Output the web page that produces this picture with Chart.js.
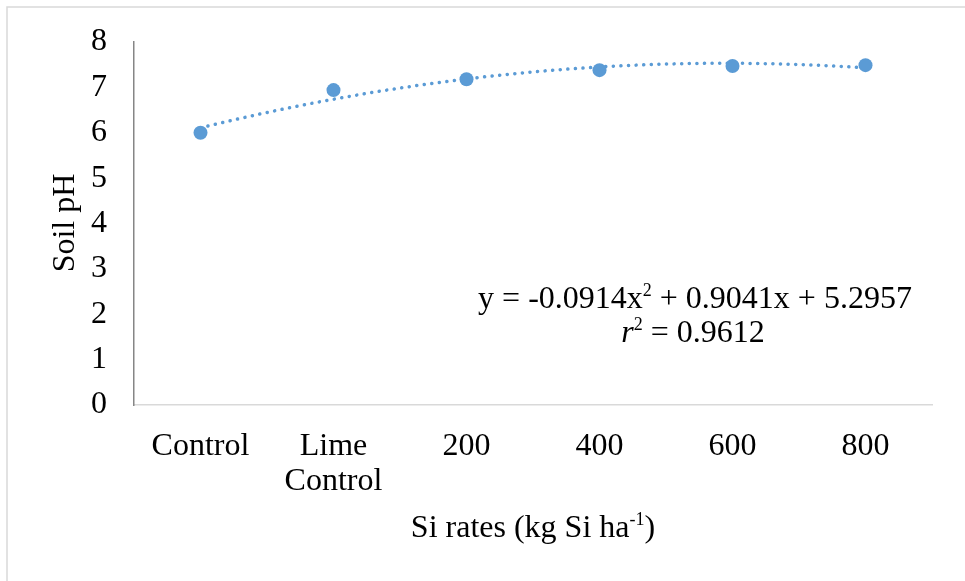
<!DOCTYPE html>
<html>
<head>
<meta charset="utf-8">
<script src="https://cdn.jsdelivr.net/npm/chart.js@4.4.1/dist/chart.umd.min.js"></script>
<style>
  html, body { margin: 0; padding: 0; background: #fff; }
  #wrap { width: 965px; height: 581px; }
</style>
</head>
<body>
<div id="wrap"><canvas id="phChart" width="965" height="581"></canvas></div>
<script>
// Si rate treatments and measured soil pH
const rates = ['Control', ['Lime', 'Control'], '200', '400', '600', '800'];
const soilPH = [6.0, 6.94, 7.18, 7.38, 7.47, 7.49];
const yTicks = [0, 1, 2, 3, 4, 5, 6, 7, 8];

// polynomial trendline y = a x^2 + b x + c, fitted on treatment index 1..6
const trendCoef = [-0.0914, 0.9041, 5.2957];
const trendR2 = 0.9612;

const FONT = "'Liberation Serif', 'Times New Roman', serif";
const BLUE = '#5B9BD5';

const xs = rates.map((_, i) => i + 1);
const pointData = xs.map((x, i) => ({ x: x, y: soilPH[i] }));
const trendData = [];
for (let x = 1; x <= 6.0001; x += 0.05) {
  trendData.push({ x: x, y: trendCoef[0] * x * x + trendCoef[1] * x + trendCoef[2] });
}

function drawSup(ctx, parts, cx, cy) {
  // parts: [text, size, italic, raise]
  let total = 0;
  parts.forEach(p => {
    ctx.font = (p[2] ? 'italic ' : '') + p[1] + 'px ' + FONT;
    total += ctx.measureText(p[0]).width;
  });
  let x = cx - total / 2;
  parts.forEach(p => {
    ctx.font = (p[2] ? 'italic ' : '') + p[1] + 'px ' + FONT;
    ctx.fillText(p[0], x, cy - (p[3] || 0));
    x += ctx.measureText(p[0]).width;
  });
}

const decorations = {
  id: 'decorations',
  beforeDraw(chart) {
    const ctx = chart.ctx;
    ctx.save();
    ctx.fillStyle = '#fff';
    ctx.fillRect(0, 0, chart.width, chart.height);
    ctx.strokeStyle = '#d9d9d9';
    ctx.lineWidth = 1.5;
    ctx.strokeRect(7, 7, chart.width + 10, chart.height + 10);
    ctx.restore();
  },
  afterDraw(chart) {
    const ctx = chart.ctx;
    const area = chart.chartArea;
    ctx.save();
    ctx.fillStyle = '#000';
    ctx.textBaseline = 'middle';
    ctx.textAlign = 'left';

    // y axis title
    ctx.save();
    ctx.translate(66, 223);
    ctx.rotate(-Math.PI / 2);
    drawSup(ctx, [['Soil pH', 32]], 0, 0);
    ctx.restore();

    // x axis title
    drawSup(ctx, [['Si rates (kg Si ha', 32], ['-1', 18, false, 9], [')', 32]],
      (area.left + area.right) / 2, 529);

    // trendline equation
    const eq1 = 'y = ' + trendCoef[0].toFixed(4) + 'x';
    const eq2 = ' + ' + trendCoef[1].toFixed(4) + 'x + ' + trendCoef[2].toFixed(4);
    drawSup(ctx, [[eq1, 32], ['2', 18, false, 9], [eq2, 32]], 695, 300);
    drawSup(ctx, [['r', 32, true], ['2', 18, false, 9], [' = ' + trendR2.toFixed(4), 32]], 693, 334);
    ctx.restore();
  }
};

new Chart(document.getElementById('phChart'), {
  type: 'scatter',
  data: {
    datasets: [
      {
        label: 'Soil pH',
        data: pointData,
        backgroundColor: BLUE,
        borderColor: BLUE,
        pointRadius: 7,
        pointBorderWidth: 0,
        showLine: false,
        order: 1
      },
      {
        label: 'Poly. trend',
        data: trendData,
        showLine: true,
        borderColor: BLUE,
        borderWidth: 3.5,
        borderDash: [0.1, 7.5],
        borderCapStyle: 'round',
        pointRadius: 0,
        tension: 0,
        order: 2
      }
    ]
  },
  options: {
    responsive: false,
    animation: false,
    layout: { padding: { left: 0, right: 33, top: 42, bottom: 0 } },
    plugins: { legend: { display: false }, tooltip: { enabled: false } },
    scales: {
      x: {
        type: 'linear',
        min: 0.5,
        max: 6.5,
        grid: { display: false },
        border: { display: true, color: '#d9d9d9', width: 1.5 },
        afterBuildTicks(scale) { scale.ticks = xs.map(v => ({ value: v })); },
        afterFit(scale) { scale.height = 176; },
        ticks: {
          autoSkip: false,
          maxRotation: 0,
          padding: 16,
          color: '#000',
          font: { family: FONT, size: 32, lineHeight: 1.1 },
          callback: (v) => rates[v - 1]
        }
      },
      y: {
        min: 0,
        max: 8,
        grid: { display: false },
        border: { display: true, color: '#868686', width: 1.5 },
        afterBuildTicks(scale) { scale.ticks = yTicks.map(v => ({ value: v })); },
        afterFit(scale) { scale.width = 134; },
        ticks: {
          padding: 19,
          color: '#000',
          font: { family: FONT, size: 32 }
        }
      }
    }
  },
  plugins: [decorations]
});
</script>
</body>
</html>
